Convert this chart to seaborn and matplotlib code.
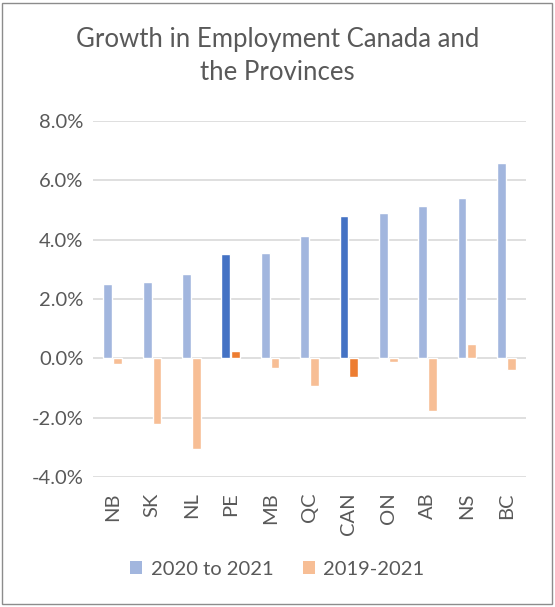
import matplotlib
matplotlib.use("Agg")
import matplotlib.pyplot as plt
import seaborn as sns
import pandas as pd
from matplotlib.patches import Rectangle, Patch
from matplotlib.ticker import FuncFormatter, MultipleLocator

# Employment growth by region (percent)
regions = ["NB", "SK", "NL", "PE", "MB", "QC", "CAN", "ON", "AB", "NS", "BC"]
growth_2020_2021 = [2.51, 2.57, 2.85, 3.50, 3.54, 4.12, 4.81, 4.90, 5.13, 5.40, 6.60]
growth_2019_2021 = [-0.18, -2.21, -3.04, 0.24, -0.33, -0.92, -0.63, -0.13, -1.76, 0.49, -0.40]
series_names = ["2020 to 2021", "2019-2021"]
highlighted = ["PE", "CAN"]

light_colors = ["#A2B6DE", "#F7BE95"]
dark_colors = ["#4472C4", "#ED7D31"]
text_color = "#595959"

df = pd.DataFrame({
    "region": regions * 2,
    "value": growth_2020_2021 + growth_2019_2021,
    "series": [series_names[0]] * len(regions) + [series_names[1]] * len(regions),
})

sns.set_theme(style="white")
plt.rcParams["font.family"] = ["Lato", "DejaVu Sans"]

fig = plt.figure(figsize=(5.55, 6.07), dpi=100)
ax = fig.add_axes([0.1676, 0.2142, 0.7801, 0.5865])

sns.barplot(data=df, x="region", y="value", hue="series", order=regions,
            hue_order=series_names, palette=light_colors, width=0.5, gap=0.1,
            saturation=1, legend=False, ax=ax)

# darker shading for the highlighted regions
for s_idx, cont in enumerate(ax.containers):
    for r_idx, bar in enumerate(cont):
        if regions[r_idx] in highlighted:
            bar.set_facecolor(dark_colors[s_idx])

ax.set_ylim(-4, 8)
ax.set_xlim(-0.5, len(regions) - 0.5)
ax.yaxis.set_major_locator(MultipleLocator(2))
ax.yaxis.set_major_formatter(FuncFormatter(lambda v, _: f"{v:.1f}%"))
ax.grid(axis="y", color="#D9D9D9", linewidth=1.2)
ax.set_axisbelow(True)
for sp in ax.spines.values():
    sp.set_visible(False)
ax.set_xlabel("")
ax.set_ylabel("")
ax.tick_params(axis="y", labelsize=14.5, colors=text_color, length=0, pad=7)
ax.tick_params(axis="x", labelsize=14.5, colors=text_color, length=0, pad=11,
               labelrotation=90)

fig.text(0.5, 0.907, "Growth in Employment Canada and\nthe Provinces",
         ha="center", va="center", fontsize=18.5, color=text_color,
         linespacing=1.4)

handles = [Patch(facecolor=c, edgecolor="none") for c in light_colors]
fig.legend(handles, series_names, loc="center", bbox_to_anchor=(0.5, 0.062),
           ncol=2, frameon=False, fontsize=14.5, handlelength=0.6,
           handleheight=0.6, handletextpad=0.4, columnspacing=1.5,
           labelcolor=text_color)

fig.patches.append(Rectangle((0.004, 0.005), 0.99, 0.99, transform=fig.transFigure,
                             fill=False, edgecolor="#8C8C8C", linewidth=1.0))

fig.savefig("out.png", dpi=100)
